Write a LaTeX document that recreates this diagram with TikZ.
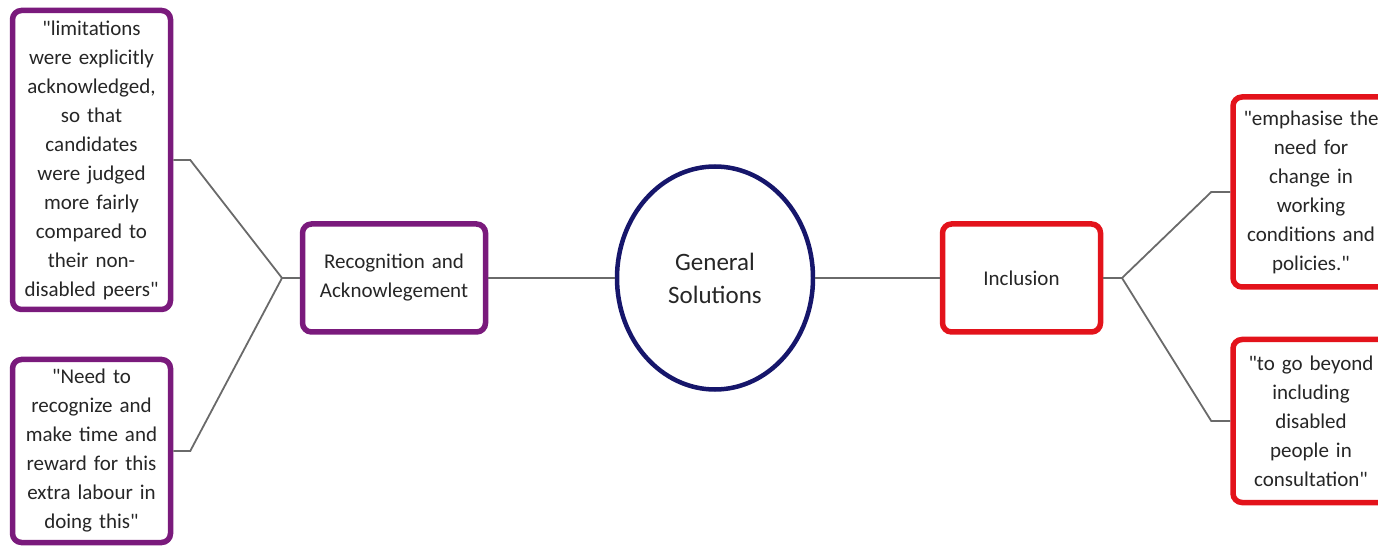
\documentclass[tikz,border=0pt]{standalone}
\usepackage{fontspec}
\setmainfont{Carlito}
\usepackage{xcolor}
\usepackage{tikz}
\usetikzlibrary{positioning,shapes.geometric}
\definecolor{plum}{HTML}{7A1A7C}
\definecolor{alert}{HTML}{E3131B}
\definecolor{deepnavy}{HTML}{16166B}
\definecolor{linkgray}{HTML}{6A6A6A}
\newcommand{\dq}{\textquotedbl}

\begin{document}
\begin{tikzpicture}[
  x=1pt, y=1pt,
  quotebox/.style={
    rectangle, rounded corners=9pt, line width=5.5pt, fill=white,
    text width=152pt, align=center, inner sep=2pt,
    font=\fontsize{21}{29}\selectfont, text=black!85,
  },
  themebox/.style={
    quotebox, minimum height=108pt,
  },
  hub/.style={
    ellipse, line width=4.5pt, draw=deepnavy, fill=white,
    minimum width=196pt, minimum height=223pt, inner sep=0pt,
    align=center, font=\fontsize{25}{33}\selectfont, text=black!85,
  },
  link/.style={draw=linkgray, line width=1.8pt},
]
\useasboundingbox (0,0) rectangle (1378,549);

% Centre
\node[hub] (gen) at (715,271) {General\\Solutions};

% Left branch
\node[themebox, draw=plum, minimum width=183pt, text width=175pt] (rec) at (394,271)
  {Recognition and\\Acknowlegement};
\node[quotebox, draw=plum, minimum width=158pt, minimum height=299pt] (lim) at (91.5,389)
  {\dq limitations\\were explicitly\\acknowledged,\\so that\\candidates\\were judged\\more fairly\\compared to\\their non-\\disabled peers\dq};
\node[quotebox, draw=plum, minimum width=158pt, minimum height=183pt] (need) at (91.5,98)
  {\dq Need to\\recognize and\\make time and\\reward for this\\extra labour in\\doing this\dq};

% Right branch
\node[themebox, draw=alert, minimum width=158pt] (inc) at (1021.5,271) {Inclusion};
\node[quotebox, draw=alert, minimum width=153pt, minimum height=190pt] (emp) at (1311,357)
  {\dq emphasise the\\need for\\change in\\working\\conditions and\\policies.\dq};
\node[quotebox, draw=alert, minimum width=153pt, minimum height=163pt] (beyond) at (1311,128)
  {\dq to go beyond\\including\\disabled\\people in\\consultation\dq};

% Connectors
\coordinate (jl) at (282,271);
\coordinate (jr) at (1122,271);
\draw[link] (rec.east) -- (gen.west);
\draw[link] (gen.east) -- (inc.west);
\draw[link] (rec.west) -- (jl);
\draw[link] (lim.east) -- ++(17,0) -- (jl);
\draw[link] (need.east) -- ++(17,0) -- (jl);
\draw[link] (inc.east) -- (jr);
\draw[link] (emp.west) -- ++(-19,0) -- (jr);
\draw[link] (beyond.west) -- ++(-19,0) -- (jr);
\end{tikzpicture}
\end{document}
